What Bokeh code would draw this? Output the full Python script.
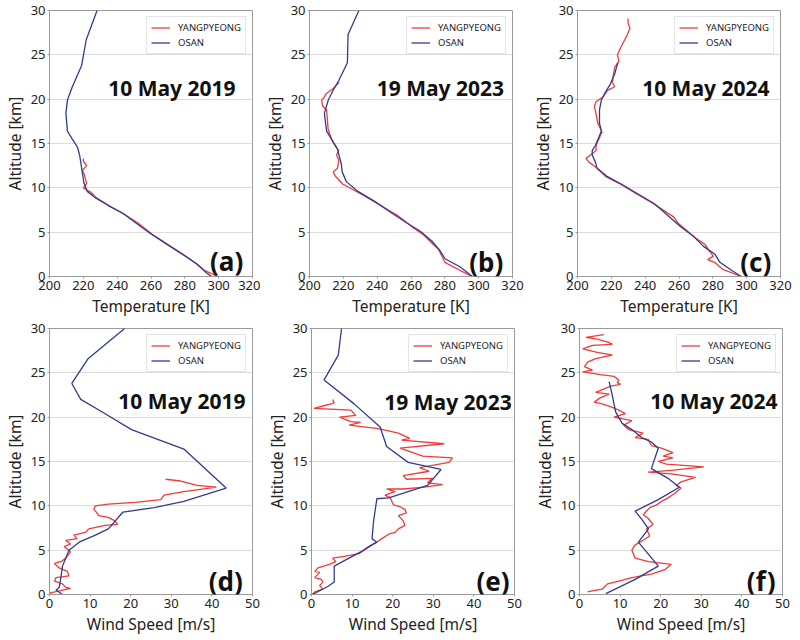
from bokeh.plotting import figure
from bokeh.models import Range1d, FixedTicker, Label, Legend, LegendItem
from bokeh.layouts import column, row
from bokeh.embed import file_html
from bokeh.resources import INLINE

# ---------------- data ----------------
temp_ticks = [200, 220, 240, 260, 280, 300, 320]
wind_ticks = [0, 10, 20, 30, 40, 50]
alt_ticks = [0, 5, 10, 15, 20, 25, 30]
titles = ["10 May 2019", "19 May 2023", "10 May 2024", "10 May 2019", "19 May 2023", "10 May 2024"]
tags = ["(a)", "(b)", "(c)", "(d)", "(e)", "(f)"]
series_names = ["YANGPYEONG", "OSAN"]

# (a) temperature 10 May 2019
a_osan_alt = [0, 0.4, 1.4, 2.4, 3.6, 4.8, 6.0, 7.1, 8.0, 8.9, 9.6, 10.6, 11.7, 13.7, 14.6, 15.5, 16.4, 18.4, 19.9, 21.4, 23.8, 26.7, 30]
a_osan_t = [295.8, 292.9, 287.1, 279.4, 269.7, 260.0, 251.3, 243.5, 234.8, 227.0, 222.3, 220.3, 219.4, 217.8, 216.5, 213.5, 210.6, 209.7, 210.6, 213.5, 219.0, 221.7, 228.1]
a_yang_alt = [0, 0.7, 1.5, 2.5, 3.6, 4.8, 6.0, 7.1, 8.0, 8.9, 9.5, 10.0, 10.5, 11.5, 12.0, 12.5, 13.0, 13.3]
a_yang_t = [299.7, 291.5, 286.5, 279.0, 270.0, 260.5, 252.5, 243.5, 235.0, 227.5, 224.5, 220.0, 222.0, 220.5, 219.5, 222.0, 220.0, 220.0]

# (b) temperature 19 May 2023
b_osan_alt = [0, 1.1, 2.0, 2.9, 4.0, 5.1, 6.0, 7.1, 8.5, 9.6, 10.7, 11.8, 12.6, 14.4, 15.5, 16.4, 17.0, 18.4, 19.9, 21.0, 22.1, 24.1, 27.3, 30]
b_osan_t = [296.3, 288.9, 280.1, 277.2, 272.3, 265.5, 257.8, 249.0, 238.3, 228.6, 221.8, 219.3, 218.9, 216.5, 213.0, 210.1, 209.7, 208.8, 211.1, 214.0, 217.3, 222.4, 222.8, 229.2]
b_yang_alt = [0, 0.7, 1.6, 2.4, 3.1, 3.6, 4.7, 5.6, 6.9, 8.2, 9.3, 10.4, 11.3, 11.8, 12.2, 12.6, 13.1, 13.7, 14.2, 14.8, 15.5, 16.6, 17.9, 18.8, 19.2, 19.9, 20.2, 20.6, 21.2, 21.6, 21.9]
b_yang_t = [296.3, 288.9, 280.0, 278.0, 276.1, 273.2, 267.4, 260.6, 251.9, 240.3, 230.5, 219.8, 215.3, 214.0, 216.5, 216.9, 217.3, 216.0, 217.3, 215.0, 213.0, 211.0, 210.5, 210.1, 207.8, 207.2, 208.6, 209.8, 214.0, 216.0, 217.5]

# (c) temperature 10 May 2024
c_osan_alt = [0, 0.7, 1.6, 2.5, 3.4, 4.5, 5.6, 6.9, 8.2, 9.3, 10.4, 11.3, 12.2, 12.9, 13.7, 14.2, 14.8, 15.5, 16.4, 17.3, 18.8, 19.9, 20.8, 21.7, 22.8, 24.1]
c_osan_t = [296.8, 291.0, 284.2, 281.3, 274.5, 268.7, 261.0, 253.2, 245.5, 235.8, 226.1, 217.4, 211.6, 210.6, 208.7, 208.7, 210.6, 212.2, 214.1, 213.0, 213.0, 214.1, 216.5, 219.4, 221.9, 223.8]
c_yang_alt = [0, 0.8, 1.6, 1.9, 2.3, 3.0, 3.6, 4.1, 4.7, 6.0, 6.7, 8.2, 9.3, 10.4, 11.3, 12.2, 12.9, 13.3, 13.9, 14.2, 14.8, 15.5, 16.3, 16.8, 17.3, 18.3, 19.2, 19.7, 20.3, 21.0, 21.4, 21.9, 22.7, 23.6, 24.3, 25.0, 25.8, 26.5, 27.3, 28.0, 28.5, 29.1]
c_yang_t = [296.8, 286.0, 281.0, 277.0, 280.3, 277.4, 275.5, 271.6, 267.5, 259.5, 257.0, 245.0, 235.0, 225.5, 216.5, 211.6, 206.8, 205.0, 209.0, 211.0, 211.0, 212.6, 214.5, 213.2, 212.0, 211.0, 210.0, 211.0, 215.4, 217.7, 222.0, 220.6, 221.2, 222.0, 224.5, 223.6, 225.5, 227.4, 229.5, 231.0, 230.0, 229.8]

# (d) wind speed 10 May 2019
d_osan_alt = [0, 0.5, 0.8, 1.9, 3.2, 5.0, 5.9, 6.7, 7.4, 9.3, 9.8, 10.5, 12.0, 16.4, 18.6, 20.5, 22.0, 23.8, 26.6, 30]
d_osan_ws = [3.2, 1.6, 2.4, 2.8, 3.2, 4.8, 7.3, 11.3, 14.5, 18.1, 25.8, 33.1, 43.5, 33.1, 20.2, 13.3, 7.7, 5.5, 9.5, 18.5]
d_yang_alt = [0, 0.15, 0.4, 0.7, 0.8, 1.2, 1.4, 1.5, 1.9, 2.1, 2.6, 3.0, 3.5, 3.7, 4.1, 4.8, 5.4, 5.7, 6.1, 6.3, 6.7, 7.0, 7.4, 7.8, 7.9, 8.3, 8.7, 8.9, 9.2, 9.6, 10.0, 10.2, 10.4, 10.7, 11.2, 11.6, 11.8, 12.1, 12.3, 12.8, 13.0]
d_yang_ws = [0.4, 0.0, 2.4, 5.2, 4.0, 3.2, 2.0, 1.2, 1.6, 4.8, 4.4, 2.4, 1.2, 2.8, 4.0, 5.2, 3.6, 5.2, 4.0, 6.8, 6.0, 8.8, 9.7, 13.7, 16.8, 16.1, 14.5, 12.1, 11.7, 10.9, 11.3, 14.5, 21.0, 27.4, 28.2, 33.1, 36.3, 41.1, 36.3, 32.3, 28.6]

# (e) wind speed 19 May 2023
e_osan_alt = [0, 0.9, 1.4, 3.2, 4.8, 5.4, 5.9, 6.3, 8.3, 10.8, 10.9, 12.3, 14.1, 14.9, 16.7, 18.9, 21.5, 24.2, 27.0, 30]
e_osan_ws = [0.2, 4.0, 5.6, 5.6, 12.1, 14.1, 16.1, 14.9, 15.3, 16.1, 19.0, 28.6, 31.9, 23.8, 18.5, 16.9, 10.5, 3.1, 6.6, 7.4]
e_yang_alt = [0, 0.3, 0.6, 1.0, 1.4, 1.7, 1.9, 2.5, 2.6, 3.0, 3.4, 3.7, 4.1, 4.3, 4.6, 5.6, 5.9, 6.3, 6.8, 7.0, 7.4, 7.8, 8.3, 8.9, 9.2, 9.6, 9.9, 10.1, 10.9, 11.2, 11.6, 11.9, 11.9, 12.1, 12.4, 12.6, 13.1, 13.0, 13.4, 13.9, 14.3, 14.9, 15.4, 15.6, 16.5, 17.0, 17.4, 17.6, 18.2, 18.7, 19.1, 19.4, 19.5, 20.0, 20.2, 20.8, 21.0, 21.4, 21.6, 22.0]
e_yang_ws = [0.2, 0.8, 2.8, 2.0, 2.8, 2.4, 0.8, 2.0, 0.8, 1.6, 4.4, 6.0, 5.2, 8.1, 11.7, 14.9, 16.1, 17.3, 19.0, 20.6, 21.4, 23.0, 22.6, 21.4, 23.4, 23.0, 21.8, 20.2, 19.4, 18.1, 20.6, 18.5, 22.6, 27.8, 32.3, 28.6, 29.8, 23.4, 22.6, 29.0, 26.6, 33.9, 34.7, 27.4, 21.8, 32.7, 22.2, 24.2, 21.4, 16.5, 9.3, 12.1, 9.7, 6.9, 10.9, 9.7, 0.6, 4.0, 5.6, 5.2]

# (f) wind speed 10 May 2024
f_osan_alt = [0.1, 1.7, 3.2, 5.9, 7.4, 8.5, 9.4, 10.7, 12.1, 13.1, 14.2, 16.5, 17.2, 17.7, 18.6, 19.3, 20.6, 22.4, 24.0]
f_osan_ws = [6.5, 13.7, 19.4, 14.5, 17.0, 15.3, 13.7, 19.4, 24.6, 21.8, 17.7, 19.4, 17.7, 15.3, 12.9, 10.5, 8.9, 8.1, 7.3]
f_yang_alt = [29.3, 29.0, 28.8, 28.4, 28.2, 28.1, 27.7, 27.3, 27.0, 26.6, 26.2, 25.7, 25.3, 25.1, 24.8, 24.6, 24.2, 23.9, 23.7, 23.5, 23.1, 22.8, 22.6, 22.2, 21.7, 21.5, 21.1, 20.7, 20.4, 20.0, 19.6, 19.1, 18.6, 18.2, 17.7, 17.5, 16.8, 16.5, 16.0, 15.6, 15.4, 15.0, 14.7, 14.4, 14.0, 13.8, 13.6, 13.2, 12.7, 12.3, 12.0, 11.4, 10.9, 10.5, 10.1, 9.8, 9.0, 8.6, 7.9, 7.4, 6.6, 5.9, 5.6, 5.0, 4.1, 3.7, 3.5, 3.4, 2.8, 2.3, 1.9, 1.5, 1.2, 0.6, 0.4, 0.3]
f_yang_ws = [6.0, 1.6, 4.4, 7.3, 8.1, 3.2, 0.8, 4.4, 8.1, 4.0, 2.0, 1.2, 3.2, 0.8, 5.2, 8.5, 9.7, 9.3, 10.1, 7.7, 5.6, 4.0, 7.3, 5.2, 3.6, 5.6, 8.1, 10.1, 11.3, 8.5, 12.9, 10.9, 12.1, 15.7, 13.7, 16.9, 17.7, 20.2, 23.0, 20.6, 23.0, 19.4, 21.4, 30.6, 22.6, 16.9, 22.6, 28.6, 25.0, 23.8, 25.0, 23.4, 21.8, 20.2, 19.0, 17.3, 15.7, 16.9, 18.1, 16.5, 17.3, 14.9, 13.7, 12.9, 13.7, 17.0, 20.6, 22.6, 21.0, 17.7, 12.9, 9.7, 6.9, 5.6, 3.2, 2.0]

# ---------------- styling ----------------
RED = "#ee3b3b"
BLUE = "#303c8e"
FONT = "Noto Sans"
GRAY = "#9a9a9a"
FRAME_W = 203
FRAME_H = 266


def panel(xr, xticks, xlabel, yx, yy, ox, oy, title, tag, title_x, title_y, tag_x, tag_y,
          right, top):
    p = figure(frame_width=FRAME_W, frame_height=FRAME_H, output_backend="svg", toolbar_location=None,
               x_range=Range1d(*xr), y_range=Range1d(0, 30),
               min_border_left=42, min_border_right=right,
               min_border_top=top, min_border_bottom=44)
    p.background_fill_color = "white"
    p.border_fill_color = "white"
    p.outline_line_color = GRAY
    p.xgrid.visible = False
    p.ygrid.grid_line_color = "#dcdcdc"
    p.ygrid.grid_line_width = 1
    p.xaxis.ticker = FixedTicker(ticks=xticks)
    p.yaxis.ticker = FixedTicker(ticks=alt_ticks)
    p.xaxis.axis_label = xlabel
    p.yaxis.axis_label = "Altitude [km]"
    for ax in (p.xaxis[0], p.yaxis[0]):
        ax.axis_line_color = GRAY
        ax.major_tick_line_color = GRAY
        ax.major_tick_out = 2
        ax.major_tick_in = 0
        ax.minor_tick_line_color = None
        ax.major_label_standoff = 2
        ax.axis_label_standoff = 2
        ax.major_label_text_font = FONT
        ax.major_label_text_font_size = "13px"
        ax.major_label_text_color = "#222222"
        ax.axis_label_text_font = FONT
        ax.axis_label_text_font_size = "15.5px"
        ax.axis_label_text_font_style = "normal"
        ax.axis_label_text_color = "#222222"

    ry = p.line(yx, yy, line_color=RED, line_width=1.3)
    ro = p.line(ox, oy, line_color=BLUE, line_width=1.3)

    leg = Legend(items=[LegendItem(label=series_names[0], renderers=[ry]),
                        LegendItem(label=series_names[1], renderers=[ro])],
                 location="top_right")
    leg.label_text_font = FONT
    leg.label_text_font_size = "9.5px"
    leg.label_text_color = "#222222"
    leg.glyph_width = 19
    leg.glyph_height = 11
    leg.label_height = 11
    leg.label_standoff = 8
    leg.spacing = 2
    leg.padding = 4
    leg.margin = 6
    leg.border_line_color = "#cccccc"
    leg.border_line_width = 1
    leg.background_fill_alpha = 0.9
    p.add_layout(leg)

    p.add_layout(Label(x=title_x, y=title_y, text=title, text_align="right",
                       text_baseline="alphabetic", text_font=FONT, text_font_size="21px",
                       text_font_style="bold", text_color="#111111"))
    p.add_layout(Label(x=tag_x, y=tag_y, text=tag, text_align="right",
                       text_baseline="alphabetic", text_font=FONT, text_font_size="26px",
                       text_font_style="bold", text_color="#111111"))
    return p


TEMP_X = (200, 320)
WIND_X = (0, 50)
TL = "Temperature [K]"
WL = "Wind Speed [m/s]"

pa = panel(TEMP_X, temp_ticks, TL, a_yang_t, a_yang_alt, a_osan_t, a_osan_alt, titles[0], tags[0],
           310.0, 21.3, 314.5, 1.8, 8, 10)
pb = panel(TEMP_X, temp_ticks, TL, b_yang_t, b_yang_alt, b_osan_t, b_osan_alt, titles[1], tags[1],
           315.0, 21.3, 314.5, 1.6, 16, 10)
pc = panel(TEMP_X, temp_ticks, TL, c_yang_t, c_yang_alt, c_osan_t, c_osan_alt, titles[2], tags[2],
           313.5, 21.3, 314.5, 1.6, 24, 10)
pd = panel(WIND_X, wind_ticks, WL, d_yang_ws, d_yang_alt, d_osan_ws, d_osan_alt, titles[3], tags[3],
           48.3, 21.8, 47.6, 1.5, 10, 8)
pe = panel(WIND_X, wind_ticks, WL, e_yang_ws, e_yang_alt, e_osan_ws, e_osan_alt, titles[4], tags[4],
           49.3, 21.7, 48.8, 1.5, 16, 8)
pf = panel(WIND_X, wind_ticks, WL, f_yang_ws, f_yang_alt, f_osan_ws, f_osan_alt, titles[5], tags[5],
           48.8, 21.8, 48.3, 1.5, 24, 8)

layout = column(row(pa, pb, pc), row(pd, pe, pf))

open("out.html", "w").write(file_html(layout, INLINE))
